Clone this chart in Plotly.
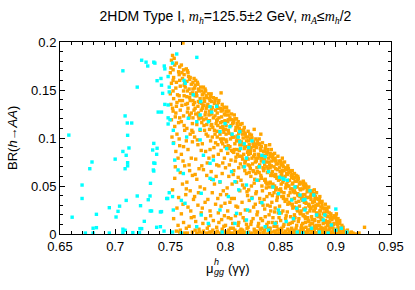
import plotly.graph_objects as go

# ---- data ----
x_tick_vals = [0.65, 0.7, 0.75, 0.8, 0.85, 0.9, 0.95]
x_tick_text = ["0.65", "0.7", "0.75", "0.8", "0.85", "0.9", "0.95"]
y_tick_vals = [0, 0.05, 0.1, 0.15, 0.2]
y_tick_text = ["0", "0.05", "0.1", "0.15", "0.2"]

orange_points = [
    (0.752,0.186),(0.751,0.181),(0.754,0.176),(0.750,0.168),(0.753,0.163),(0.751,0.157),(0.755,0.152),(0.750,0.146),(0.753,0.141),(0.756,0.137),(0.752,0.131),(0.755,0.126),(0.751,0.119),(0.754,0.112),(0.756,0.104),(0.753,0.095),(0.755,0.086),(0.757,0.079),(0.754,0.058),(0.752,0.046),(0.756,0.027),(0.753,0.016),(0.757,0.009),
    (0.7615,0.199),(0.760,0.176),(0.762,0.171),(0.758,0.166),(0.761,0.162),(0.763,0.158),(0.759,0.154),(0.762,0.149),(0.758,0.144),(0.761,0.139),(0.764,0.135),(0.759,0.129),(0.762,0.123),(0.760,0.117),(0.763,0.108),(0.758,0.099),(0.762,0.091),(0.760,0.083),(0.763,0.071),(0.759,0.064),(0.761,0.052),(0.764,0.041),(0.760,0.021),(0.762,0.012),(0.759,0.004),(0.763,0.001),
    (0.766,0.168),(0.768,0.163),(0.765,0.159),(0.769,0.156),(0.767,0.151),(0.770,0.147),(0.765,0.143),(0.768,0.139),(0.771,0.135),(0.766,0.131),(0.769,0.126),(0.767,0.121),(0.770,0.115),(0.765,0.110),(0.768,0.104),(0.770,0.096),(0.766,0.088),(0.769,0.079),(0.767,0.072),(0.770,0.061),(0.765,0.054),(0.768,0.045),(0.771,0.036),(0.766,0.028),(0.769,0.017),(0.767,0.008),(0.770,0.002),
    (0.773,0.160),(0.775,0.156),(0.772,0.152),(0.776,0.149),(0.774,0.144),(0.777,0.141),(0.772,0.137),(0.775,0.133),(0.778,0.129),(0.773,0.125),(0.776,0.120),(0.774,0.114),(0.777,0.108),(0.772,0.101),(0.775,0.093),(0.778,0.087),(0.773,0.078),(0.776,0.068),(0.774,0.057),(0.777,0.049),(0.772,0.039),(0.775,0.030),(0.778,0.022),(0.773,0.013),(0.776,0.005),(0.774,0.001),
    (0.780,0.153),(0.782,0.149),(0.779,0.145),(0.783,0.142),(0.781,0.138),(0.784,0.135),(0.779,0.131),(0.782,0.127),(0.785,0.124),(0.780,0.119),(0.783,0.114),(0.781,0.108),(0.784,0.102),(0.779,0.094),(0.782,0.086),(0.785,0.079),(0.780,0.067),(0.783,0.061),(0.781,0.047),(0.784,0.036),(0.779,0.027),(0.782,0.016),(0.785,0.009),(0.780,0.003),(0.783,0.001),
    (0.787,0.146),(0.789,0.142),(0.786,0.139),(0.790,0.136),(0.788,0.132),(0.791,0.129),(0.786,0.125),(0.789,0.121),(0.792,0.118),(0.787,0.113),(0.790,0.108),(0.788,0.101),(0.791,0.095),(0.786,0.088),(0.789,0.081),(0.792,0.072),(0.787,0.065),(0.790,0.052),(0.788,0.043),(0.791,0.031),(0.786,0.024),(0.789,0.014),(0.792,0.007),(0.787,0.002),(0.790,0.000),
    (0.796,0.147),(0.794,0.139),(0.797,0.135),(0.793,0.131),(0.796,0.128),(0.799,0.125),(0.794,0.121),(0.797,0.117),(0.793,0.113),(0.798,0.109),(0.795,0.104),(0.798,0.099),(0.793,0.093),(0.796,0.087),(0.799,0.079),(0.794,0.071),(0.797,0.063),(0.795,0.054),(0.798,0.045),(0.793,0.037),(0.796,0.029),(0.799,0.019),(0.794,0.012),(0.797,0.005),(0.795,0.001),(0.799,0.002),
    (0.801,0.132),(0.803,0.128),(0.800,0.124),(0.804,0.121),(0.802,0.117),(0.805,0.113),(0.800,0.109),(0.803,0.105),(0.806,0.101),(0.801,0.096),(0.804,0.091),(0.802,0.084),(0.805,0.077),(0.800,0.069),(0.803,0.060),(0.806,0.052),(0.801,0.041),(0.804,0.033),(0.802,0.024),(0.805,0.016),(0.800,0.009),(0.803,0.004),(0.806,0.001),(0.801,0.001),
    (0.808,0.124),(0.810,0.120),(0.807,0.116),(0.811,0.112),(0.809,0.108),(0.812,0.105),(0.807,0.101),(0.810,0.097),(0.813,0.093),(0.808,0.088),(0.811,0.083),(0.809,0.076),(0.812,0.069),(0.807,0.062),(0.810,0.054),(0.813,0.045),(0.808,0.037),(0.811,0.028),(0.809,0.019),(0.812,0.012),(0.807,0.006),(0.810,0.002),(0.813,0.003),(0.808,0.000),
    (0.815,0.115),(0.817,0.111),(0.814,0.107),(0.818,0.104),(0.816,0.100),(0.819,0.097),(0.814,0.093),(0.817,0.089),(0.820,0.085),(0.815,0.081),(0.818,0.076),(0.816,0.070),(0.819,0.063),(0.814,0.056),(0.817,0.048),(0.820,0.040),(0.815,0.033),(0.818,0.025),(0.816,0.017),(0.819,0.010),(0.814,0.005),(0.817,0.002),(0.820,0.001),(0.815,0.000),
    (0.826,0.109),(0.822,0.104),(0.824,0.100),(0.821,0.097),(0.825,0.094),(0.823,0.090),(0.826,0.087),(0.821,0.083),(0.824,0.079),(0.827,0.075),(0.822,0.071),(0.825,0.066),(0.823,0.060),(0.826,0.053),(0.821,0.046),(0.824,0.038),(0.827,0.031),(0.822,0.024),(0.825,0.016),(0.823,0.010),(0.826,0.005),(0.821,0.002),(0.824,0.001),(0.827,0.000),
    (0.832,0.104),(0.829,0.097),(0.831,0.093),(0.828,0.090),(0.832,0.087),(0.830,0.083),(0.833,0.080),(0.828,0.076),(0.831,0.072),(0.834,0.069),(0.829,0.065),(0.832,0.061),(0.830,0.056),(0.833,0.050),(0.828,0.044),(0.831,0.037),(0.834,0.030),(0.829,0.023),(0.832,0.016),(0.830,0.011),(0.833,0.006),(0.828,0.003),(0.831,0.001),(0.834,0.002),
    (0.840,0.093),(0.836,0.089),(0.838,0.085),(0.835,0.082),(0.839,0.079),(0.837,0.075),(0.840,0.072),(0.835,0.068),(0.838,0.064),(0.841,0.061),(0.836,0.057),(0.839,0.053),(0.837,0.048),(0.840,0.042),(0.835,0.036),(0.838,0.030),(0.841,0.024),(0.836,0.018),(0.839,0.012),(0.837,0.007),(0.840,0.003),(0.835,0.001),(0.838,0.000),
    (0.843,0.083),(0.845,0.079),(0.842,0.076),(0.846,0.073),(0.844,0.070),(0.847,0.067),(0.842,0.063),(0.845,0.060),(0.848,0.056),(0.843,0.052),(0.846,0.048),(0.844,0.043),(0.847,0.038),(0.842,0.033),(0.845,0.027),(0.848,0.022),(0.843,0.017),(0.846,0.012),(0.844,0.008),(0.847,0.004),(0.842,0.002),(0.845,0.001),(0.848,0.000),
    (0.850,0.076),(0.852,0.072),(0.849,0.069),(0.853,0.066),(0.851,0.063),(0.854,0.060),(0.849,0.057),(0.852,0.054),(0.855,0.051),(0.850,0.047),(0.853,0.043),(0.851,0.039),(0.854,0.034),(0.849,0.029),(0.852,0.024),(0.855,0.019),(0.850,0.014),(0.853,0.010),(0.851,0.006),(0.854,0.003),(0.849,0.001),(0.852,0.000),(0.855,0.001),
    (0.857,0.068),(0.859,0.065),(0.856,0.062),(0.860,0.059),(0.858,0.056),(0.861,0.053),(0.856,0.050),(0.859,0.047),(0.862,0.044),(0.857,0.040),(0.860,0.036),(0.858,0.032),(0.861,0.027),(0.856,0.023),(0.859,0.018),(0.862,0.014),(0.857,0.010),(0.860,0.006),(0.858,0.003),(0.861,0.001),(0.856,0.000),(0.859,0.001),
    (0.864,0.061),(0.866,0.058),(0.863,0.055),(0.867,0.052),(0.865,0.049),(0.868,0.046),(0.863,0.043),(0.866,0.040),(0.869,0.037),(0.864,0.033),(0.867,0.029),(0.865,0.025),(0.868,0.021),(0.863,0.017),(0.866,0.013),(0.869,0.009),(0.864,0.006),(0.867,0.003),(0.865,0.001),(0.868,0.000),(0.863,0.002),
    (0.871,0.053),(0.873,0.050),(0.870,0.047),(0.874,0.044),(0.872,0.041),(0.875,0.038),(0.870,0.035),(0.873,0.032),(0.876,0.029),(0.871,0.026),(0.874,0.022),(0.872,0.018),(0.875,0.014),(0.870,0.011),(0.873,0.007),(0.876,0.004),(0.871,0.002),(0.874,0.000),(0.872,0.001),
    (0.878,0.045),(0.880,0.042),(0.877,0.039),(0.881,0.036),(0.879,0.033),(0.882,0.030),(0.877,0.027),(0.880,0.024),(0.883,0.021),(0.878,0.018),(0.881,0.014),(0.879,0.011),(0.882,0.008),(0.877,0.005),(0.880,0.003),(0.883,0.001),(0.878,0.000),(0.881,0.001),
    (0.885,0.036),(0.887,0.033),(0.884,0.030),(0.888,0.027),(0.886,0.024),(0.889,0.021),(0.884,0.018),(0.887,0.015),(0.890,0.012),(0.885,0.009),(0.888,0.006),(0.886,0.003),(0.889,0.001),(0.884,0.000),(0.887,0.001),
    (0.892,0.026),(0.894,0.022),(0.891,0.019),(0.895,0.016),(0.893,0.013),(0.896,0.010),(0.891,0.007),(0.894,0.004),(0.897,0.002),(0.892,0.001),(0.895,0.000),
    (0.899,0.017),(0.901,0.013),(0.898,0.010),(0.902,0.007),(0.900,0.004),(0.903,0.002),(0.899,0.001),(0.904,0.000),(0.900,0.018),(0.902,0.016),
    (0.906,0.006),(0.908,0.003),(0.911,0.001),(0.914,0.002),(0.918,0.000),(0.921,0.001),(0.926,0.007),
]

orange_points_dense = [
    (0.7535,0.183),(0.7505,0.173),(0.7575,0.169),(0.7525,0.160),(0.7565,0.145),(0.7505,0.135),(0.7545,0.122),(0.7575,0.116),(0.7515,0.101),(0.7585,0.092),(0.7545,0.070),(0.7575,0.038),(0.7555,0.003),
    (0.7645,0.172),(0.7605,0.168),(0.7665,0.164),(0.7635,0.153),(0.7685,0.146),(0.7605,0.134),(0.7655,0.127),(0.7625,0.113),(0.7695,0.108),(0.7645,0.097),(0.7615,0.076),(0.7675,0.066),(0.7645,0.047),(0.7615,0.031),(0.7685,0.024),(0.7645,0.006),
    (0.7715,0.162),(0.7745,0.158),(0.7775,0.153),(0.7705,0.151),(0.7735,0.147),(0.7765,0.137),(0.7795,0.134),(0.7715,0.129),(0.7755,0.123),(0.7785,0.116),(0.7705,0.106),(0.7745,0.098),(0.7785,0.071),(0.7725,0.062),(0.7755,0.043),(0.7715,0.018),(0.7795,0.011),(0.7765,0.002),
    (0.7815,0.151),(0.7845,0.146),(0.7805,0.141),(0.7865,0.143),(0.7835,0.133),(0.7875,0.130),(0.7815,0.124),(0.7855,0.118),(0.7885,0.111),(0.7825,0.104),(0.7865,0.097),(0.7895,0.090),(0.7835,0.074),(0.7875,0.057),(0.7815,0.033),(0.7865,0.019),(0.7835,0.006),(0.7885,0.004),
    (0.7915,0.141),(0.7935,0.137),(0.7985,0.132),(0.7925,0.126),(0.7965,0.122),(0.7995,0.118),(0.7915,0.115),(0.7955,0.111),(0.7985,0.106),(0.7925,0.101),(0.7965,0.096),(0.7995,0.091),(0.7935,0.083),(0.7975,0.074),(0.7915,0.060),(0.7955,0.041),(0.7995,0.032),(0.7935,0.022),(0.7965,0.015),(0.7985,0.008),(0.7925,0.003),
    (0.8015,0.128),(0.8055,0.125),(0.8085,0.120),(0.8025,0.119),(0.8065,0.115),(0.8095,0.111),(0.8005,0.104),(0.8045,0.099),(0.8085,0.094),(0.8025,0.089),(0.8065,0.086),(0.8095,0.080),(0.8035,0.072),(0.8075,0.066),(0.8015,0.048),(0.8055,0.037),(0.8095,0.029),(0.8025,0.017),(0.8065,0.011),(0.8045,0.006),(0.8085,0.004),(0.8005,0.002),
    (0.8115,0.117),(0.8135,0.114),(0.8165,0.108),(0.8125,0.109),(0.8155,0.104),(0.8185,0.101),(0.8105,0.100),(0.8145,0.096),(0.8185,0.091),(0.8125,0.087),(0.8165,0.083),(0.8195,0.079),(0.8135,0.073),(0.8175,0.066),(0.8115,0.059),(0.8155,0.051),(0.8195,0.044),(0.8135,0.021),(0.8175,0.014),(0.8115,0.009),(0.8155,0.004),(0.8195,0.006),(0.8135,0.001),
    (0.8205,0.107),(0.8235,0.103),(0.8275,0.099),(0.8215,0.093),(0.8255,0.091),(0.8285,0.094),(0.8225,0.087),(0.8265,0.083),(0.8295,0.079),(0.8205,0.078),(0.8245,0.073),(0.8285,0.069),(0.8215,0.064),(0.8265,0.057),(0.8235,0.050),(0.8275,0.042),(0.8215,0.035),(0.8255,0.028),(0.8285,0.020),(0.8235,0.013),(0.8205,0.007),(0.8265,0.003),(0.8295,0.008),
    (0.8305,0.099),(0.8335,0.095),(0.8365,0.092),(0.8315,0.089),(0.8345,0.086),(0.8385,0.088),(0.8325,0.079),(0.8355,0.078),(0.8395,0.075),(0.8305,0.070),(0.8345,0.066),(0.8385,0.068),(0.8325,0.058),(0.8365,0.054),(0.8395,0.049),(0.8335,0.045),(0.8375,0.039),(0.8315,0.033),(0.8355,0.026),(0.8395,0.020),(0.8335,0.014),(0.8375,0.010),(0.8315,0.005),(0.8355,0.004),(0.8395,0.006),
    (0.8415,0.088),(0.8445,0.084),(0.8475,0.081),(0.8405,0.081),(0.8435,0.077),(0.8485,0.076),(0.8415,0.071),(0.8455,0.068),(0.8495,0.065),(0.8425,0.061),(0.8465,0.058),(0.8405,0.054),(0.8445,0.050),(0.8485,0.046),(0.8425,0.040),(0.8465,0.035),(0.8405,0.029),(0.8445,0.023),(0.8485,0.017),(0.8425,0.012),(0.8465,0.008),(0.8405,0.006),(0.8445,0.003),(0.8485,0.005),
    (0.8515,0.079),(0.8535,0.075),(0.8565,0.071),(0.8505,0.072),(0.8545,0.069),(0.8585,0.066),(0.8515,0.066),(0.8555,0.063),(0.8595,0.061),(0.8525,0.059),(0.8565,0.055),(0.8505,0.052),(0.8545,0.048),(0.8585,0.043),(0.8525,0.037),(0.8565,0.031),(0.8505,0.022),(0.8545,0.016),(0.8585,0.011),(0.8525,0.008),(0.8565,0.005),(0.8505,0.004),(0.8545,0.002),(0.8595,0.004),
    (0.8605,0.066),(0.8625,0.063),(0.8655,0.060),(0.8615,0.058),(0.8645,0.055),(0.8685,0.053),(0.8605,0.052),(0.8635,0.049),(0.8675,0.047),(0.8615,0.044),(0.8655,0.042),(0.8695,0.040),(0.8625,0.037),(0.8665,0.034),(0.8605,0.030),(0.8645,0.027),(0.8685,0.024),(0.8625,0.020),(0.8665,0.016),(0.8605,0.012),(0.8645,0.009),(0.8685,0.006),(0.8625,0.004),(0.8665,0.002),(0.8695,0.003),
    (0.8705,0.055),(0.8725,0.052),(0.8755,0.049),(0.8715,0.049),(0.8745,0.046),(0.8785,0.043),(0.8705,0.041),(0.8735,0.038),(0.8775,0.036),(0.8715,0.033),(0.8755,0.031),(0.8795,0.029),(0.8725,0.027),(0.8765,0.024),(0.8705,0.020),(0.8745,0.017),(0.8785,0.015),(0.8725,0.012),(0.8765,0.009),(0.8705,0.006),(0.8745,0.004),(0.8785,0.003),(0.8725,0.002),(0.8765,0.000),
    (0.8805,0.046),(0.8825,0.043),(0.8855,0.039),(0.8815,0.039),(0.8845,0.036),(0.8875,0.034),(0.8805,0.034),(0.8835,0.031),(0.8865,0.028),(0.8895,0.026),(0.8815,0.027),(0.8855,0.024),(0.8895,0.022),(0.8825,0.019),(0.8865,0.017),(0.8805,0.015),(0.8845,0.013),(0.8885,0.011),(0.8825,0.009),(0.8865,0.007),(0.8805,0.005),(0.8845,0.004),(0.8885,0.003),(0.8825,0.001),(0.8865,0.002),
    (0.8905,0.031),(0.8935,0.028),(0.8915,0.024),(0.8955,0.021),(0.8985,0.019),(0.8925,0.018),(0.8965,0.015),(0.8905,0.014),(0.8945,0.012),(0.8985,0.011),(0.8925,0.009),(0.8965,0.007),(0.8905,0.005),(0.8945,0.006),(0.8985,0.004),(0.8925,0.003),(0.8965,0.001),(0.8905,0.002),(0.8995,0.000),
    (0.9005,0.021),(0.9035,0.014),(0.9015,0.010),(0.9055,0.009),(0.9025,0.006),(0.9065,0.004),(0.9045,0.002),(0.9085,0.001),(0.9105,0.004),(0.9125,0.000),(0.9155,0.001),
    (0.7585,0.002),(0.7655,0.001),(0.7725,0.004),(0.7795,0.001),(0.7855,0.002),(0.7915,0.001),(0.7975,0.003),(0.8035,0.001),(0.8105,0.002),(0.8165,0.001),(0.8225,0.000),(0.8285,0.002),(0.8345,0.000),(0.8405,0.001),(0.8465,0.000),(0.8525,0.001),(0.8575,0.000),(0.8635,0.000),(0.8695,0.001),(0.8745,0.002),(0.8795,0.001),(0.8855,0.000),(0.8915,0.000),(0.8975,0.002),(0.9025,0.001),
]

orange_points_edge = [
    (0.7525,0.171),(0.7525,0.149),(0.7525,0.128),(0.7555,0.178),(0.7555,0.158),(0.7555,0.133),
    (0.7585,0.174),(0.7585,0.160),(0.7585,0.139),(0.7585,0.121),(0.7625,0.166),(0.7625,0.155),(0.7625,0.144),
    (0.7655,0.170),(0.7655,0.149),(0.7655,0.136),(0.7675,0.161),(0.7675,0.142),(0.7675,0.124),
    (0.7705,0.158),(0.7705,0.139),(0.7705,0.121),(0.7725,0.155),(0.7725,0.144),(0.7725,0.131),
    (0.7755,0.151),(0.7755,0.138),(0.7755,0.126),(0.7785,0.149),(0.7785,0.136),(0.7785,0.121),
    (0.7805,0.147),(0.7805,0.134),(0.7805,0.113),(0.7825,0.144),(0.7825,0.131),(0.7825,0.120),
    (0.7855,0.141),(0.7855,0.128),(0.7855,0.109),(0.7875,0.138),(0.7875,0.125),(0.7875,0.114),
    (0.7905,0.139),(0.7905,0.123),(0.7905,0.104),(0.7925,0.134),(0.7925,0.119),(0.7925,0.107),
    (0.7955,0.131),(0.7955,0.116),(0.7955,0.099),(0.7975,0.129),(0.7975,0.112),(0.7975,0.094),
    (0.8005,0.128),(0.8005,0.113),(0.8005,0.098),(0.8025,0.124),(0.8025,0.108),(0.8025,0.092),
    (0.8055,0.119),(0.8055,0.104),(0.8055,0.087),(0.8075,0.118),(0.8075,0.101),(0.8075,0.085),
    (0.8105,0.115),(0.8105,0.102),(0.8105,0.088),(0.8125,0.110),(0.8125,0.097),(0.8125,0.081),
    (0.8155,0.108),(0.8155,0.093),(0.8155,0.078),(0.8175,0.105),(0.8175,0.091),(0.8175,0.074),
    (0.8205,0.101),(0.8205,0.087),(0.8205,0.072),(0.8225,0.099),(0.8225,0.084),(0.8225,0.068),
    (0.8255,0.096),(0.8255,0.081),(0.8255,0.065),(0.8275,0.093),(0.8275,0.079),(0.8275,0.063),
    (0.8305,0.094),(0.8305,0.081),(0.8305,0.064),(0.8325,0.091),(0.8325,0.076),(0.8325,0.059),
    (0.8355,0.086),(0.8355,0.072),(0.8355,0.056),(0.8375,0.083),(0.8375,0.070),(0.8375,0.052),
    (0.8405,0.084),(0.8405,0.069),(0.8405,0.053),(0.8425,0.080),(0.8425,0.065),(0.8425,0.049),
    (0.8455,0.076),(0.8455,0.062),(0.8455,0.046),(0.8475,0.073),(0.8475,0.059),(0.8475,0.041),
    (0.8505,0.074),(0.8505,0.061),(0.8505,0.044),(0.8525,0.070),(0.8525,0.056),(0.8525,0.039),
    (0.8555,0.067),(0.8555,0.052),(0.8555,0.036),(0.8575,0.064),(0.8575,0.050),(0.8575,0.033),
    (0.8605,0.062),(0.8605,0.047),(0.8605,0.031),(0.8625,0.059),(0.8625,0.045),(0.8625,0.028),
    (0.8655,0.057),(0.8655,0.041),(0.8655,0.024),(0.8675,0.054),(0.8675,0.039),(0.8675,0.022),
    (0.8705,0.051),(0.8705,0.037),(0.8705,0.019),(0.8725,0.048),(0.8725,0.033),(0.8725,0.016),
    (0.8755,0.045),(0.8755,0.030),(0.8755,0.013),(0.8775,0.042),(0.8775,0.027),(0.8775,0.011),
    (0.8805,0.040),(0.8805,0.025),(0.8805,0.008),(0.8825,0.037),(0.8825,0.022),(0.8825,0.006),
    (0.8855,0.033),(0.8855,0.020),(0.8855,0.005),(0.8875,0.030),(0.8875,0.016),(0.8875,0.004),
    (0.8905,0.027),(0.8905,0.013),(0.8905,0.002),(0.8925,0.023),(0.8925,0.011),(0.8925,0.003),
    (0.8955,0.019),(0.8955,0.008),(0.8955,0.001),(0.8975,0.017),(0.8975,0.006),(0.8975,0.002),
    (0.9005,0.015),(0.9005,0.005),(0.9035,0.011),(0.9035,0.003),(0.9065,0.007),(0.9065,0.001),
]

cyan_points = [
    (0.658,0.103),(0.661,0.0175),(0.670,0.051),(0.670,0.037),(0.673,0.001),(0.677,0.068),(0.679,0.075),(0.680,0.006),(0.680,0.001),(0.683,0.0205),(0.683,0.0066),(0.6947,0.0274),(0.6947,0.001),(0.700,0.078),(0.7008,0.0177),(0.7026,0.0236),(0.704,0.029),(0.707,0.170),(0.707,0.086),(0.707,0.005),(0.707,0.0014),(0.709,0.123),(0.709,0.068),(0.709,0.0039),(0.710,0.082),(0.710,0.035),(0.711,0.1156),(0.7113,0.1028),(0.7113,0.0743),(0.7113,0.071),(0.7125,0.0896),(0.715,0.1156),(0.716,0.0014),(0.720,0.153),(0.720,0.0396),(0.722,0.0014),(0.7225,0.0056),(0.723,0.0295),(0.724,0.181),(0.724,0.0056),(0.7264,0.0132),(0.728,0.179),(0.7295,0.175),(0.730,0.0357),(0.7316,0.0396),(0.732,0.0528),(0.7318,0.024),(0.735,0.179),(0.735,0.0944),(0.734,0.0875),(0.735,0.074),(0.735,0.0656),(0.7376,0.083),(0.738,0.0893),(0.736,0.0736),(0.7346,0.0667),(0.741,0.023),(0.7376,0.007),(0.741,0.0076),(0.7443,0.003),(0.7476,0.037),(0.749,0.043),(0.748,0.1146),(0.748,0.121),(0.748,0.1344),(0.733,0.024),(0.742,0.0233),(0.7467,0.037),(0.752,0.039),(0.7527,0.025),
    (0.736,0.178),(0.7445,0.175),(0.745,0.172),(0.752,0.178),(0.7558,0.1875),(0.774,0.184),(0.738,0.1597),(0.7415,0.162),(0.748,0.164),(0.742,0.155),(0.743,0.1465),(0.749,0.153),(0.749,0.148),(0.745,0.135),(0.739,0.127),(0.742,0.127),(0.7497,0.119),(0.7527,0.108),(0.7624,0.160),(0.7635,0.157),(0.7708,0.145),(0.7775,0.138),(0.777,0.124),(0.786,0.1326),(0.792,0.133),(0.7874,0.127),(0.774,0.117),(0.7845,0.117),(0.7996,0.115),(0.804,0.1118),(0.7663,0.1205),(0.777,0.109),(0.795,0.1066),(0.806,0.104),(0.813,0.1066),(0.8116,0.101),
    (0.7527,0.0944),(0.754,0.077),(0.7648,0.101),(0.777,0.098),(0.757,0.0667),(0.7618,0.063),(0.780,0.082),(0.789,0.077),(0.786,0.058),(0.789,0.0565),(0.778,0.0424),(0.7633,0.032),(0.760,0.035),(0.778,0.0198),(0.7844,0.011),(0.795,0.025),(0.810,0.0215),(0.8086,0.011),(0.8026,0.039),(0.8086,0.0545),(0.812,0.046),(0.8055,0.065),(0.7739,0.0076),(0.795,0.0545),(0.786,0.0736),(0.819,0.079),(0.821,0.090),(0.801,0.089),(0.8136,0.089),(0.813,0.096),(0.819,0.0146),
    (0.824,0.097),(0.817,0.094),(0.836,0.0806),(0.8306,0.070),(0.839,0.065),(0.852,0.058),(0.856,0.056),(0.863,0.049),(0.8675,0.0406),(0.8766,0.045),(0.880,0.0406),(0.8705,0.0354),(0.890,0.0198),(0.900,0.026),(0.905,0.006),(0.8285,0.056),(0.819,0.051),(0.824,0.037),(0.848,0.042),(0.860,0.0354),(0.848,0.025),(0.872,0.025),(0.8615,0.016),(0.8826,0.0198),(0.8887,0.0146),(0.896,0.0094),(0.820,0.025),(0.836,0.0076),(0.845,0.011),(0.855,0.013),(0.878,0.006),(0.817,0.070),(0.833,0.082),(0.8345,0.075),(0.849,0.059),(0.853,0.057),(0.843,0.049),(0.833,0.0326),(0.8645,0.0267),(0.849,0.0215),(0.839,0.004),(0.900,0.004),(0.872,0.036),
    (0.865,0.002),(0.870,0.001),(0.885,0.002),(0.893,0.001),(0.910,0.002),(0.797,0.002),(0.820,0.001),(0.760,0.001),(0.752,0.002),
]

all_orange = orange_points + orange_points_dense + orange_points_edge
orange_mu = [p[0] for p in all_orange]
orange_br = [p[1] for p in all_orange]
cyan_mu = [p[0] for p in cyan_points]
cyan_br = [p[1] for p in cyan_points]

FONT = "Liberation Sans, Arial, sans-serif"

fig = go.Figure()
fig.add_trace(go.Scatter(x=orange_mu, y=orange_br, mode="markers",
                         marker=dict(color="#FFA500", size=3.4, symbol="square", line=dict(width=0)),
                         showlegend=False, hoverinfo="skip"))
fig.add_trace(go.Scatter(x=cyan_mu, y=cyan_br, mode="markers",
                         marker=dict(color="#00FFFF", size=3.4, symbol="square", line=dict(width=0)),
                         showlegend=False, hoverinfo="skip"))

axis_common = dict(showgrid=False, zeroline=False, showline=True, linecolor="black", linewidth=1,
                   mirror="ticks", ticks="inside", ticklen=5, tickcolor="black", tickwidth=1,
                   tickfont=dict(family=FONT, size=13, color="black"))

fig.update_xaxes(range=[0.65, 0.95], tickvals=x_tick_vals, ticktext=x_tick_text,
                 minor=dict(dtick=0.01, tick0=0.65, ticks="inside", ticklen=3, tickcolor="black"),
                 **axis_common)
fig.update_yaxes(range=[0, 0.2], tickvals=y_tick_vals, ticktext=y_tick_text,
                 minor=dict(dtick=0.01, tick0=0, ticks="inside", ticklen=3, tickcolor="black"),
                 **axis_common)

serif = "font-family:'Liberation Serif', 'Times New Roman', serif"
title_text = ("2HDM Type I, <span style=\"" + serif + "\"><i>m</i><sub><i>h</i></sub></span>=125.5±2 GeV, "
              "<span style=\"" + serif + "\"><i>m</i><sub><i>A</i></sub></span>≤"
              "<span style=\"" + serif + "\"><i>m</i><sub><i>h</i></sub></span>/2")

fig.update_layout(
    width=415, height=290,
    margin=dict(l=60, r=24, t=42, b=56),
    plot_bgcolor="white", paper_bgcolor="white",
    font=dict(family=FONT, size=13, color="black"),
    title=dict(text=title_text, x=0.5, xref="paper", xanchor="center",
               y=1 - 16 / 290, yref="container", yanchor="middle",
               font=dict(family=FONT, size=14, color="black")),
    annotations=[
        dict(text="BR(<i>h</i>→<i>AA</i>)", textangle=-90, xref="paper", yref="paper",
             x=0, y=0.5, xshift=-48, showarrow=False, xanchor="center", yanchor="middle",
             font=dict(family=FONT, size=13, color="black")),
        dict(text="μ", xref="paper", yref="paper", x=(210 - 60) / 331, y=(234 - 268) / 192,
             showarrow=False, xanchor="center", yanchor="middle",
             font=dict(family=FONT, size=13, color="black")),
        dict(text="<i>h</i>", xref="paper", yref="paper", x=(216.5 - 60) / 331, y=(234 - 262) / 192,
             showarrow=False, xanchor="center", yanchor="middle",
             font=dict(family=FONT, size=9, color="black")),
        dict(text="<i>gg</i>", xref="paper", yref="paper", x=(218.5 - 60) / 331, y=(234 - 271.5) / 192,
             showarrow=False, xanchor="center", yanchor="middle",
             font=dict(family=FONT, size=9, color="black")),
        dict(text="(γγ)", xref="paper", yref="paper", x=(238.5 - 60) / 331, y=(234 - 268) / 192,
             showarrow=False, xanchor="center", yanchor="middle",
             font=dict(family=FONT, size=13, color="black")),
    ],
)

fig.write_html("out.html", config={"displayModeBar": False},
               post_script="document.body.style.margin='0';")
